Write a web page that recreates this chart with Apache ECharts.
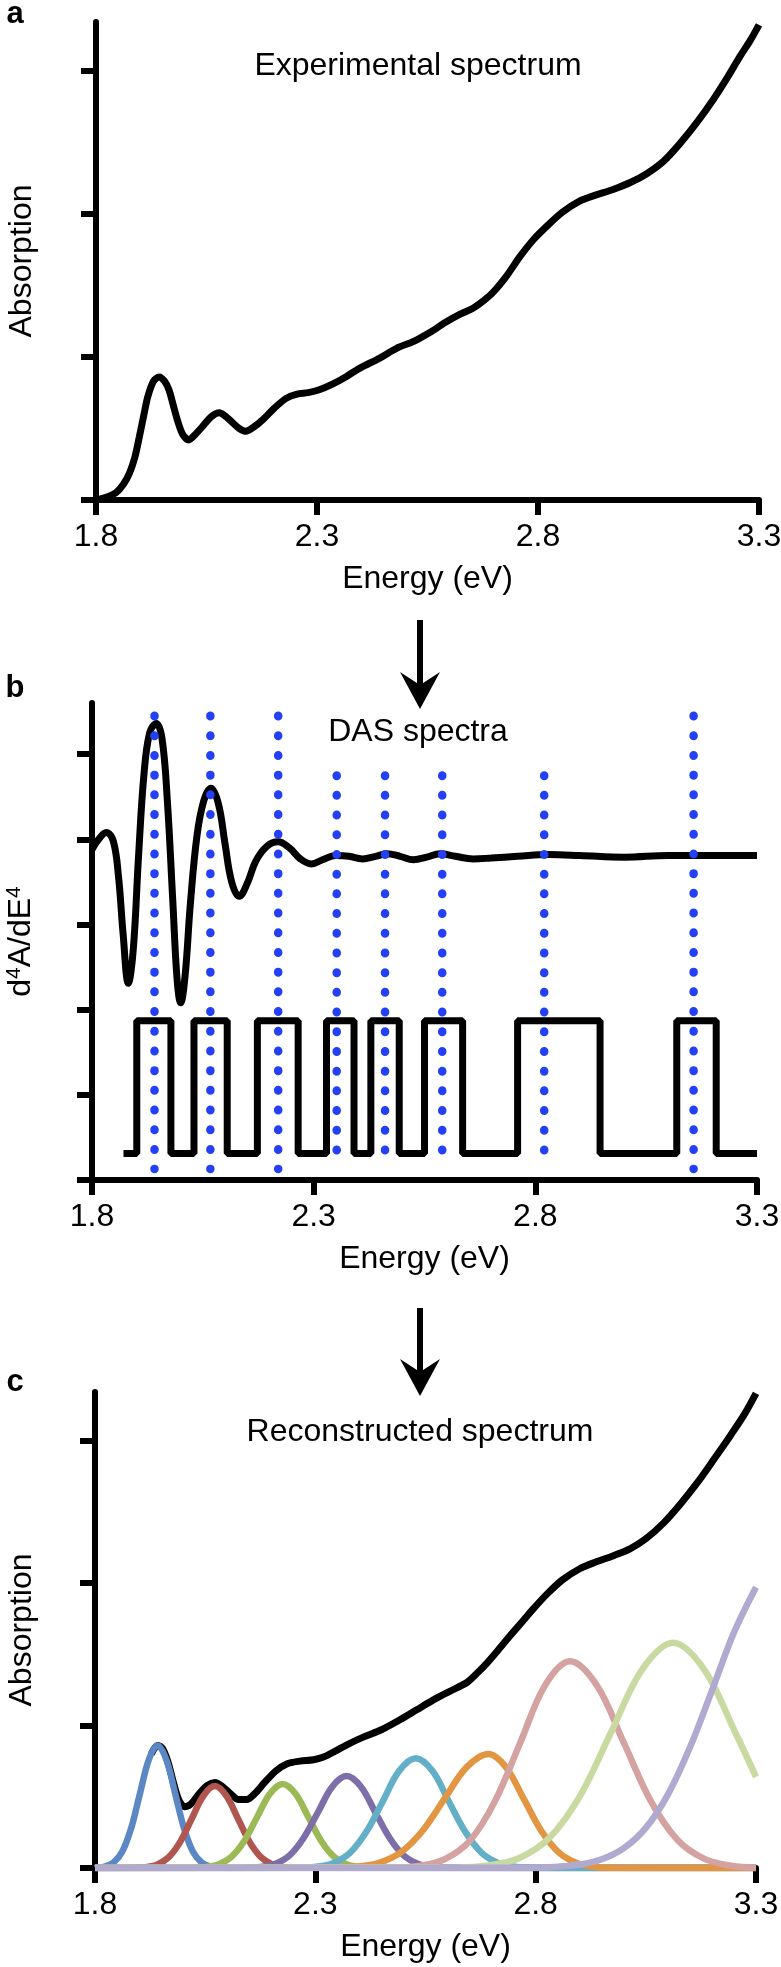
<!DOCTYPE html>
<html>
<head>
<meta charset="utf-8">
<title>Experimental, DAS and reconstructed spectra</title>
<script src="https://cdn.jsdelivr.net/npm/echarts@6.0.0/dist/echarts.min.js"></script>
<style>
  html, body { margin: 0; padding: 0; background: #fff; }
  #chart { width: 781px; height: 1967px; }
</style>
</head>
<body>
<div id="chart"></div>
<script>
// ---- data (energy in eV, y in tick units) ----
const energyTicks = [1.8, 2.3, 2.8, 3.3];
const absTicks = [0, 1, 2, 3];
const dasTicks = [0, 1, 2, 3, 4, 5];

// panel a: measured absorption
const expSpectrum = [
  [1.800, 0.00], [1.825, 0.02], [1.845, 0.05], [1.862, 0.11], [1.876, 0.19], [1.888, 0.30],
  [1.898, 0.44], [1.908, 0.59], [1.917, 0.72], [1.930, 0.83], [1.943, 0.86], [1.955, 0.83],
  [1.965, 0.77], [1.975, 0.66], [1.984, 0.56], [1.996, 0.46], [2.010, 0.42], [2.025, 0.46],
  [2.040, 0.51], [2.060, 0.58], [2.079, 0.61], [2.095, 0.58], [2.109, 0.54], [2.124, 0.50],
  [2.139, 0.48], [2.157, 0.51], [2.177, 0.56], [2.203, 0.64], [2.230, 0.71], [2.255, 0.74],
  [2.280, 0.75], [2.305, 0.77], [2.335, 0.81], [2.365, 0.86], [2.396, 0.92], [2.441, 0.99],
  [2.480, 1.06], [2.520, 1.11], [2.555, 1.17], [2.590, 1.24], [2.625, 1.30], [2.653, 1.34],
  [2.676, 1.39], [2.698, 1.45], [2.730, 1.57], [2.759, 1.70], [2.790, 1.82], [2.819, 1.91],
  [2.855, 2.01], [2.895, 2.09], [2.930, 2.13], [2.970, 2.17], [3.010, 2.22], [3.046, 2.28],
  [3.085, 2.37], [3.121, 2.49], [3.160, 2.64], [3.197, 2.80], [3.230, 2.96], [3.257, 3.10],
  [3.280, 3.21], [3.300, 3.32]
];

// panel b: 4th derivative
const dasSpectrum = [
  [1.800, 3.88], [1.815, 4.00], [1.832, 4.08], [1.848, 3.98], [1.860, 3.55], [1.870, 2.90],
  [1.882, 2.31], [1.893, 2.70], [1.905, 3.80], [1.917, 4.75], [1.930, 5.25], [1.945, 5.36],
  [1.958, 5.18], [1.970, 4.45], [1.982, 3.30], [1.992, 2.35], [2.000, 2.08], [2.010, 2.40],
  [2.022, 3.25], [2.037, 4.05], [2.052, 4.45], [2.068, 4.60], [2.085, 4.42], [2.100, 3.95],
  [2.115, 3.50], [2.132, 3.33], [2.150, 3.48], [2.170, 3.75], [2.195, 3.92], [2.220, 3.97],
  [2.245, 3.90], [2.270, 3.77], [2.295, 3.71], [2.320, 3.76], [2.350, 3.81], [2.380, 3.80],
  [2.410, 3.77], [2.440, 3.80], [2.465, 3.83], [2.495, 3.80], [2.525, 3.76], [2.555, 3.79],
  [2.585, 3.83], [2.620, 3.80], [2.660, 3.77], [2.700, 3.78], [2.760, 3.80], [2.830, 3.82],
  [2.900, 3.81], [3.000, 3.79], [3.100, 3.81], [3.300, 3.81]
];

// panel b: rectangular windows (step line, value holds until next point)
const squareWave = [
  [1.871, 0.31], [1.901, 1.87], [1.978, 0.31], [2.030, 1.87], [2.105, 0.31], [2.173, 1.87],
  [2.265, 0.31], [2.329, 1.87], [2.391, 0.31], [2.429, 1.87], [2.493, 0.31], [2.550, 1.87],
  [2.636, 0.31], [2.760, 1.87], [2.946, 0.31], [3.119, 1.87], [3.208, 0.31], [3.300, 0.31]
];

// panel b: dotted marker positions and their top ends
const dasMarkers = [1.941, 2.067, 2.220, 2.352, 2.461, 2.590, 2.820, 3.157];
const markerTops = [5.45, 5.45, 5.45, 4.75, 4.75, 4.75, 4.75, 5.45];
const markerBottom = 0.13;

// panel c: reconstructed sum
const reconSpectrum = [
  [1.928, 0.80], [1.935, 0.84], [1.943, 0.86], [1.953, 0.84], [1.965, 0.75], [1.978, 0.60],
  [1.990, 0.48], [2.003, 0.43], [2.018, 0.45], [2.036, 0.52], [2.055, 0.58], [2.072, 0.60],
  [2.090, 0.57], [2.108, 0.52], [2.126, 0.48], [2.144, 0.48], [2.162, 0.52], [2.185, 0.60],
  [2.210, 0.68], [2.235, 0.73], [2.265, 0.75], [2.296, 0.76], [2.320, 0.78], [2.345, 0.82],
  [2.375, 0.87], [2.410, 0.92], [2.450, 0.97], [2.492, 1.04], [2.530, 1.11], [2.568, 1.18],
  [2.605, 1.24], [2.643, 1.30], [2.668, 1.37], [2.690, 1.44], [2.715, 1.53], [2.742, 1.63],
  [2.770, 1.73], [2.795, 1.82], [2.825, 1.92], [2.860, 2.02], [2.900, 2.10], [2.939, 2.15],
  [2.975, 2.19], [3.014, 2.24], [3.050, 2.31], [3.090, 2.42], [3.130, 2.56], [3.166, 2.70],
  [3.205, 2.87], [3.241, 3.03], [3.275, 3.19], [3.300, 3.33]
];

// panel c: individual bands
const bandBlue = [
  [1.800, 0], [1.802, 0.002], [1.822, 0.010], [1.842, 0.038], [1.862, 0.116], [1.882, 0.279],
  [1.902, 0.522], [1.922, 0.759], [1.942, 0.86], [1.962, 0.759], [1.982, 0.522], [2.002, 0.279],
  [2.022, 0.116], [2.042, 0.038], [2.062, 0.010], [2.082, 0.002], [2.200, 0], [3.300, 0]
];
const bandRed = [
  [1.800, 0], [1.890, 0.001], [1.916, 0.006], [1.942, 0.025], [1.968, 0.078], [1.994, 0.187],
  [2.020, 0.349], [2.046, 0.507], [2.072, 0.575], [2.098, 0.507], [2.124, 0.349], [2.150, 0.187],
  [2.176, 0.078], [2.202, 0.025], [2.228, 0.006], [2.254, 0.001], [3.300, 0]
];
const bandGreen = [
  [1.800, 0], [2.023, 0.001], [2.052, 0.007], [2.081, 0.026], [2.110, 0.080], [2.139, 0.192],
  [2.168, 0.358], [2.197, 0.521], [2.226, 0.59], [2.255, 0.521], [2.284, 0.358], [2.313, 0.192],
  [2.342, 0.080], [2.371, 0.026], [2.400, 0.007], [2.429, 0.001], [3.300, 0]
];
const bandPurple = [
  [1.800, 0], [2.143, 0.001], [2.176, 0.007], [2.208, 0.028], [2.241, 0.087], [2.273, 0.209],
  [2.306, 0.391], [2.338, 0.569], [2.371, 0.645], [2.404, 0.569], [2.436, 0.391], [2.469, 0.209],
  [2.501, 0.087], [2.534, 0.028], [2.566, 0.007], [2.599, 0.001], [3.300, 0]
];
const bandCyan = [
  [1.800, 0], [2.265, 0.002], [2.303, 0.009], [2.340, 0.034], [2.378, 0.104], [2.415, 0.250],
  [2.453, 0.467], [2.490, 0.680], [2.528, 0.77], [2.566, 0.680], [2.603, 0.467], [2.641, 0.250],
  [2.678, 0.104], [2.716, 0.034], [2.753, 0.009], [2.791, 0.002], [3.300, 0]
];
const bandOrange = [
  [1.800, 0], [2.343, 0.002], [2.393, 0.009], [2.443, 0.035], [2.493, 0.108], [2.543, 0.260],
  [2.593, 0.485], [2.643, 0.706], [2.693, 0.80], [2.733, 0.706], [2.773, 0.485], [2.813, 0.260],
  [2.853, 0.108], [2.893, 0.035], [2.933, 0.009], [2.973, 0.002], [3.300, 0]
];
const bandPink = [
  [1.800, 0], [2.482, 0.003], [2.539, 0.016], [2.595, 0.064], [2.652, 0.196], [2.708, 0.471],
  [2.765, 0.879], [2.821, 1.280], [2.878, 1.45], [2.939, 1.280], [3.000, 0.879], [3.061, 0.471],
  [3.122, 0.196], [3.183, 0.064], [3.244, 0.016], [3.300, 0.003]
];
const bandLightGreen = [
  [1.800, 0], [2.622, 0.004], [2.692, 0.018], [2.762, 0.069], [2.832, 0.214], [2.902, 0.513],
  [2.972, 0.958], [3.042, 1.394], [3.112, 1.58], [3.182, 1.394], [3.252, 0.958], [3.300, 0.64]
];
const bandLavender = [
  [1.800, 0], [2.750, 0.001], [2.800, 0.003], [2.850, 0.009], [2.900, 0.024], [2.950, 0.061],
  [3.000, 0.139], [3.050, 0.282], [3.100, 0.515], [3.150, 0.845], [3.200, 1.245], [3.250, 1.652],
  [3.300, 1.97]
];

const bands = [
  { data: bandBlue, color: '#5b87c5' },
  { data: bandRed, color: '#b0564f' },
  { data: bandGreen, color: '#9bba55' },
  { data: bandPurple, color: '#7d6eaa' },
  { data: bandCyan, color: '#64afc8' },
  { data: bandOrange, color: '#e29641' },
  { data: bandPink, color: '#d4a3a1' },
  { data: bandLightGreen, color: '#c8d9a2' },
  { data: bandLavender, color: '#b0aad0' }
];

const FONT = '"Liberation Sans", Arial, Helvetica, sans-serif';
const chart = echarts.init(document.getElementById('chart'));

function energyAxis(gridIndex) {
  return {
    type: 'value',
    gridIndex: gridIndex,
    min: 1.8,
    max: 3.3,
    name: 'Energy (eV)',
    nameLocation: 'middle',
    nameGap: 63,
    nameTextStyle: { fontSize: 32, color: '#000', fontFamily: FONT },
    axisLine: { show: true, onZero: false, lineStyle: { color: '#000', width: 6 } },
    axisTick: { show: true, length: 15, customValues: energyTicks, lineStyle: { color: '#000', width: 6 } },
    axisLabel: {
      show: true,
      customValues: energyTicks,
      formatter: (v) => v.toFixed(1),
      fontSize: 32,
      color: '#000',
      fontFamily: FONT,
      margin: 21
    },
    splitLine: { show: false }
  };
}

function valueAxis(gridIndex, max, ticks, name, nameGap, rich) {
  return {
    type: 'value',
    gridIndex: gridIndex,
    min: 0,
    max: max,
    name: name,
    nameLocation: 'middle',
    nameRotate: 90,
    nameGap: nameGap,
    nameTextStyle: { fontSize: 32, color: '#000', fontFamily: FONT, rich: rich },
    axisLine: { show: true, onZero: false, lineStyle: { color: '#000', width: 6 } },
    axisTick: { show: true, length: 15, customValues: ticks, lineStyle: { color: '#000', width: 6 } },
    axisLabel: { show: false },
    splitLine: { show: false }
  };
}

function curve(axisIndex, data, color, width, smooth, z) {
  return {
    type: 'line',
    xAxisIndex: axisIndex,
    yAxisIndex: axisIndex,
    data: data,
    symbol: 'none',
    smooth: smooth,
    silent: true,
    z: z,
    lineStyle: { color: color, width: width }
  };
}

const series = [
  curve(0, expSpectrum, '#000', 7, 0.3, 2),
  curve(1, dasSpectrum, '#000', 7, 0.4, 2),
  Object.assign(curve(1, squareWave, '#000', 7, false, 2), { step: 'end' }),
  curve(2, reconSpectrum, '#000', 7, 0.3, 2)
];

// dotted vertical markers in panel b, drawn top-down so dots line up at the top
dasMarkers.forEach((e, i) => {
  series.push({
    type: 'line',
    xAxisIndex: 1,
    yAxisIndex: 1,
    data: [[e, markerTops[i]], [e, markerBottom]],
    symbol: 'none',
    silent: true,
    z: 5,
    lineStyle: { color: '#2440f4', width: 8.5, type: [0.5, 19.2], cap: 'round' }
  });
});

bands.forEach((b) => {
  series.push(curve(2, b.data, b.color, 6.5, 0.35, 3));
});

// arrows between panels
function arrow(yTop, yTip) {
  return [
    { type: 'line', shape: { x1: 420, y1: yTop, x2: 420, y2: yTip - 20 }, style: { stroke: '#000', lineWidth: 6 } },
    {
      type: 'polygon',
      shape: { points: [[420, yTip], [400, yTip - 37], [420, yTip - 24], [440, yTip - 37]] },
      style: { fill: '#000' }
    }
  ];
}

function label(text, x, y, bold) {
  return {
    type: 'text',
    x: x,
    y: y,
    style: {
      text: text,
      fontSize: bold ? 31 : 32,
      fontWeight: bold ? 'bold' : 'normal',
      fontFamily: FONT,
      fill: '#000',
      align: 'center',
      verticalAlign: 'middle'
    }
  };
}

const option = {
  animation: false,
  backgroundColor: '#fff',
  grid: [
    { left: 96, top: 22, width: 663, height: 478, outerBoundsMode: 'none' },
    { left: 92, top: 703, width: 665, height: 477, outerBoundsMode: 'none' },
    { left: 95, top: 1392, width: 661, height: 476, outerBoundsMode: 'none' }
  ],
  xAxis: [energyAxis(0), energyAxis(1), energyAxis(2)],
  yAxis: [
    valueAxis(0, 3.34, absTicks, 'Absorption', 58),
    valueAxis(1, 5.6, dasTicks, '{t|d}{s|4}{t|A/dE}{s|4}', 54, {
      t: { fontSize: 32, fontFamily: FONT, color: '#000', lineHeight: 34 },
      s: { fontSize: 21, fontFamily: FONT, color: '#000', lineHeight: 22, verticalAlign: 'top' }
    }),
    valueAxis(2, 3.34, absTicks, 'Absorption', 57)
  ],
  series: series,
  graphic: {
    elements: [
      label('a', 15, 14, true),
      label('b', 15, 688, true),
      label('c', 15, 1382, true),
      label('Experimental spectrum', 418, 66, false),
      label('DAS spectra', 418, 732, false),
      label('Reconstructed spectrum', 420, 1432, false)
    ].concat(arrow(620, 709), arrow(1308, 1396))
  }
};

chart.setOption(option);
</script>
</body>
</html>
